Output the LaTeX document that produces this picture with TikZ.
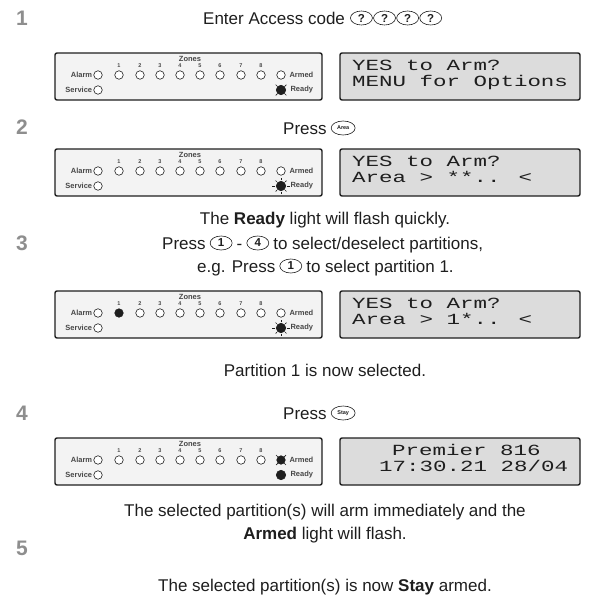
\documentclass[tikz,border=0pt]{standalone}
\usepackage{fontspec}
\setmainfont{Liberation Sans}
\newfontfamily\lcdfont[FakeStretch=1.45]{Liberation Mono}
\usetikzlibrary{positioning,shapes.geometric}
\definecolor{stepgray}{HTML}{8E8E8E}
\definecolor{ink}{HTML}{1E1E1E}
\definecolor{ledpanel}{HTML}{F3F3F3}
\definecolor{lcdfill}{HTML}{DCDCDC}
\definecolor{ledtext}{HTML}{474747}
\tikzset{
  stepno/.style={font=\fontsize{21}{21}\selectfont\bfseries, text=stepgray, inner sep=0pt},
  line/.style={font=\fontsize{17}{19}\selectfont, text=ink, inner sep=0pt,
               text height=12.2pt, text depth=0pt},
  key/.style={draw=ink, ellipse, line width=0.6pt, minimum width=22pt, minimum height=14pt,
              inner sep=0pt, text=ink, font=\fontsize{11.5}{11.5}\selectfont\bfseries},
  smallkey/.style={key, minimum width=24pt, font=\fontsize{5.5}{5.5}\selectfont\bfseries},
  ledbox/.style={draw=ink, fill=ledpanel, line width=1.4pt, rounded corners=2pt},
  lcdbox/.style={draw=ink, fill=lcdfill, line width=1.4pt, rounded corners=2pt},
  lcdtext/.style={font=\lcdfont\fontsize{15.5}{16}\selectfont, text=ink, anchor=base west, inner sep=0pt},
  led/.style={draw=ink, circle, fill=white, line width=0.6pt, minimum size=8.5pt, inner sep=0pt},
  ledon/.style={led, fill=ink, minimum size=9.5pt},
  ledlab/.style={font=\fontsize{7.5}{7.5}\selectfont\bfseries, text=ledtext, inner sep=0.8pt},
  zonelab/.style={font=\fontsize{5.5}{5.5}\selectfont\bfseries, text=ledtext, inner sep=0pt},
  ray/.style={draw=ink, line width=0.7pt}
}
\begin{document}
\begin{tikzpicture}[x=1pt,y=-1pt]
  \useasboundingbox (0,0) rectangle (595,600);

  % step numbers
  \foreach \s/\yy in {1/18,2/127,3/243,4/413,5/548}
    \node[stepno] (st\s) at (22,\yy) {\s};

  % keypad panels
  \foreach \p/\yy/\zf/\af in {1/53/white/white,2/149/white/white,3/291/ink/white,4/438/white/ink} {
    \draw[ledbox] (55,\yy) rectangle (322,\yy+47);
    \draw[lcdbox] (340,\yy) rectangle (580,\yy+47);
    \node[ledlab] (zn\p) at (190,\yy+6) {Zones};
    \node[led] (al\p) at (98,\yy+22) {};
    \node[ledlab, left=0.3pt of al\p] {Alarm};
    \node[led] (sv\p) at (98,\yy+37) {};
    \node[ledlab, left=0.3pt of sv\p] {Service};
    \node[zonelab] at (119,\yy+13) {1};
    \node[led, fill=\zf] (z\p-1) at (119,\yy+22) {};
    \foreach \i/\xx in {2/140,3/160,4/180,5/200,6/220,7/241,8/261} {
      \node[zonelab] at (\xx,\yy+13) {\i};
      \node[led] (z\p-\i) at (\xx,\yy+22) {};
    }
    \node[led, fill=\af] (ar\p) at (281,\yy+22) {};
    \node[ledlab, right=3pt of ar\p] {Armed};
    \node[ledon] (rd\p) at (281,\yy+37) {};
    \node[ledlab, right=3.5pt of rd\p] {Ready};
  }

  % flashing lights
  \foreach \n in {rd1,ar4}
    \foreach \a in {45,135,225,315}
      \draw[ray] (\n.\a) -- ++(\a:2.4pt);
  \foreach \n in {rd2,rd3} {
    \foreach \a in {0,180}
      \draw[ray] ([shift={(\a:0.8pt)}]\n.\a) -- ++(\a:3pt);
    \foreach \a in {45,90,135,225,270,315}
      \draw[ray] ([shift={(\a:0.8pt)}]\n.\a) -- ++(\a:1.8pt);
  }

  % display texts
  \node[lcdtext] (lcd1a) at (352,70) {YES to Arm?};
  \node[lcdtext] (lcd1b) at (352,86) {MENU for Options};
  \node[lcdtext] (lcd2a) at (352,166) {YES to Arm?};
  \node[lcdtext] (lcd2b) at (352,182) {Area > **.. <};
  \node[lcdtext] (lcd3a) at (352,308) {YES to Arm?};
  \node[lcdtext] (lcd3b) at (352,324) {Area > 1*.. <};
  \node[lcdtext] (lcd4a) at (392,455) {Premier 816};
  \node[lcdtext] (lcd4b) at (379,471) {17:30.21 28/04};

  % step 1
  \node[line, anchor=west] (enter) at (203,18) {Enter Access code};
  \node[key, right=5pt of enter] (q1) {?};
  \node[key, right=0.5pt of q1] (q2) {?};
  \node[key, right=0.5pt of q2] (q3) {?};
  \node[key, right=0.5pt of q3] (q4) {?};

  % step 2
  \node[line, anchor=west] (press2) at (283,128) {Press};
  \node[smallkey, right=4pt of press2] (area) {Area};

  % step 3
  \node[line] (ready) at (325,218) {The \textbf{Ready} light will flash quickly.};
  \node[line, anchor=west] (press3) at (162,243) {Press};
  \node[key, right=4pt of press3] (k1) {1};
  \node[line, right=4pt of k1] (hy) {-};
  \node[key, right=4pt of hy] (k4) {4};
  \node[line, right=4pt of k4] (sel) {to select/deselect partitions,};
  \node[line, anchor=west] (eg) at (197,266) {e.g. Press};
  \node[key, right=4pt of eg] (k1b) {1};
  \node[line, right=4pt of k1b] (sel1) {to select partition 1.};
  \node[line] (done3) at (325,370) {Partition 1 is now selected.};

  % step 4
  \node[line, anchor=west] (press4) at (283,413) {Press};
  \node[smallkey, right=4pt of press4] (stay) {Stay};
  \node[line] (arm4a) at (325,510) {The selected partition(s) will arm immediately and the};
  \node[line] (arm4b) at (325,533) {\textbf{Armed} light will flash.};

  % step 5
  \node[line] (done5) at (325,585) {The selected partition(s) is now \textbf{Stay} armed.};
\end{tikzpicture}
\end{document}
